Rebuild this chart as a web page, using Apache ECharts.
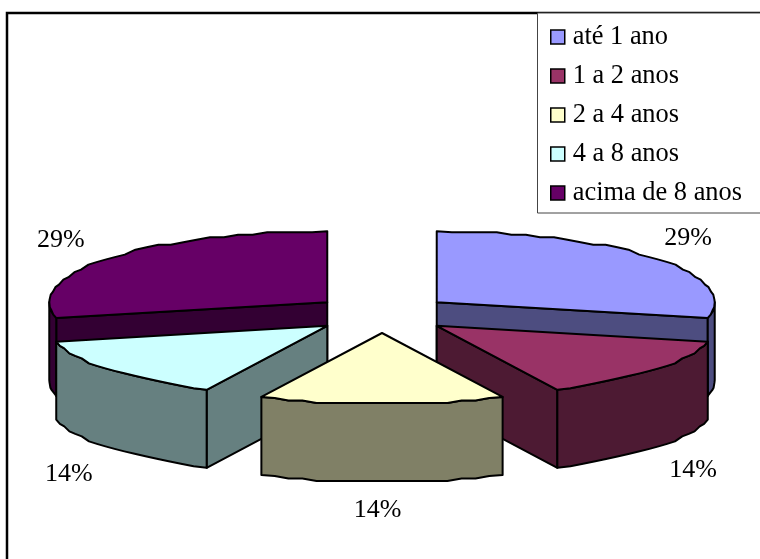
<!DOCTYPE html>
<html>
<head>
<meta charset="utf-8">
<style>html,body{margin:0;padding:0;background:#fff}#chart{width:760px;height:559px}</style>
<script src="https://cdn.jsdelivr.net/npm/echarts@6/dist/echarts.min.js"></script>
</head>
<body>
<div id="chart"></div>
<script>
// Tempo de serviço: exploded pseudo-3D pie, built from custom series.
const categories = ['até 1 ano', '1 a 2 anos', '2 a 4 anos', '4 a 8 anos', 'acima de 8 anos'];
const values = [2, 1, 1, 1, 2];
const topColors = ['#9999FF', '#993366', '#FFFFCC', '#CCFFFF', '#660066'];
const wallColors = ['#4D4D80', '#4D1A33', '#808066', '#668080', '#330033'];
// Painter's order: the back slices first, the front slice last.
const paintOrder = [0, 4, 1, 3, 2];

// Projection of the flattened disc.
const pie = { cx: 382, cy: 314, rx: 278, ry: 71, depth: 78, explodeX: 70, explodeY: 19, rimGrid: 2.5, rimStep: 0.055 };
// Percent labels sit on a wider ellipse around each slice, with a small per-label shift.
const labelRing = { rx: 328, ry: 104 };
const labelShift = [[-5, 1], [0, 1.5], [-4.5, -5], [-2, 5], [-10, 3]];

const total = values.reduce((a, b) => a + b, 0);
const startAngles = values.map((_, i) =>
  values.slice(0, i).reduce((a, b) => a + b, 0) / total * Math.PI * 2);

// Angles run clockwise from twelve o'clock.
function rimPoint(c, angle, drop) {
  return [c[0] + pie.rx * Math.sin(angle), c[1] - pie.ry * Math.cos(angle) + (drop || 0)];
}
// The rim is a coarse polyline: inner vertices snap vertically to a small grid.
function rimArc(c, from, to, drop) {
  const steps = Math.max(2, Math.ceil(Math.abs(to - from) / pie.rimStep));
  const g = pie.rimGrid;
  const pts = [];
  for (let s = 0; s <= steps; s++) {
    const p = rimPoint(c, from + (to - from) * s / steps, drop);
    if (s > 0 && s < steps) {
      const base = c[1] + (drop || 0);
      p[1] = base + Math.round((p[1] - base) / g) * g;
    }
    pts.push(p);
  }
  return pts;
}
function polygon(points, fill) {
  return {
    type: 'polygon',
    shape: { points: points },
    style: { fill: fill, stroke: '#000', lineWidth: 2, lineJoin: 'round' }
  };
}

function drawSlice(i, value) {
  const a0 = startAngles[i];
  const a1 = a0 + value / total * Math.PI * 2;
  const mid = (a0 + a1) / 2;
  const c = [pie.cx + pie.explodeX * Math.sin(mid), pie.cy - pie.explodeY * Math.cos(mid)];
  const d = pie.depth;
  const children = [];
  const down = p => [p[0], p[1] + d];

  // Cut faces turned towards the viewer.
  if (Math.sin(a0) < -0.01) {
    const r = rimPoint(c, a0);
    children.push(polygon([c, r, down(r), down(c)], wallColors[i]));
  }
  if (Math.sin(a1) > 0.01) {
    const r = rimPoint(c, a1);
    children.push(polygon([c, r, down(r), down(c)], wallColors[i]));
  }

  // Outer wall: the part of the rim on the near half of the ellipse.
  const wallFrom = Math.max(a0, Math.PI / 2);
  const wallTo = Math.min(a1, Math.PI * 1.5);
  if (wallTo > wallFrom) {
    const upper = rimArc(c, wallFrom, wallTo);
    const lower = rimArc(c, wallTo, wallFrom, d);
    children.push(polygon(upper.concat(lower), wallColors[i]));
  }

  // Top surface.
  children.push(polygon([c].concat(rimArc(c, a0, a1)), topColors[i]));

  // Percent label.
  const near = Math.cos(mid) < 0 ? d : 0;
  children.push({
    type: 'text',
    style: {
      text: Math.round(value / total * 100) + '%',
      x: c[0] + labelRing.rx * Math.sin(mid) + labelShift[i][0],
      y: c[1] - labelRing.ry * Math.cos(mid) + near + labelShift[i][1],
      align: 'center',
      verticalAlign: 'middle',
      fill: '#000',
      font: '26px "Liberation Serif", serif'
    }
  });
  return { type: 'group', children: children };
}

const series = paintOrder.map(i => ({
  type: 'custom',
  name: categories[i],
  coordinateSystem: 'none',
  data: [values[i]],
  itemStyle: { color: topColors[i] },
  silent: true,
  animation: false,
  renderItem: (params, api) => drawSlice(i, api.value(0))
}));

const chart = echarts.init(document.getElementById('chart'), null, { renderer: 'canvas' });
chart.setOption({
  animation: false,
  backgroundColor: '#fff',
  graphic: [{
    type: 'rect',
    shape: { x: 7, y: 13, width: 780, height: 600 },
    style: { fill: 'none', stroke: '#000', lineWidth: 2.5 },
    silent: true,
    z: -1
  }],
  legend: {
    data: categories,
    orient: 'vertical',
    left: 537.5,
    top: 13,
    padding: [11, 60, 7, 12.5],
    itemWidth: 14,
    itemHeight: 14,
    itemGap: 13,
    icon: 'rect',
    selectedMode: false,
    backgroundColor: '#fff',
    borderColor: '#444',
    borderWidth: 1,
    itemStyle: { borderColor: '#000', borderWidth: 1.5 },
    textStyle: {
      fontFamily: '"Liberation Serif", serif',
      fontSize: 26.4,
      lineHeight: 26,
      color: '#000',
      padding: [0, 0, 0, 3]
    }
  },
  series: series
});
</script>
</body>
</html>
